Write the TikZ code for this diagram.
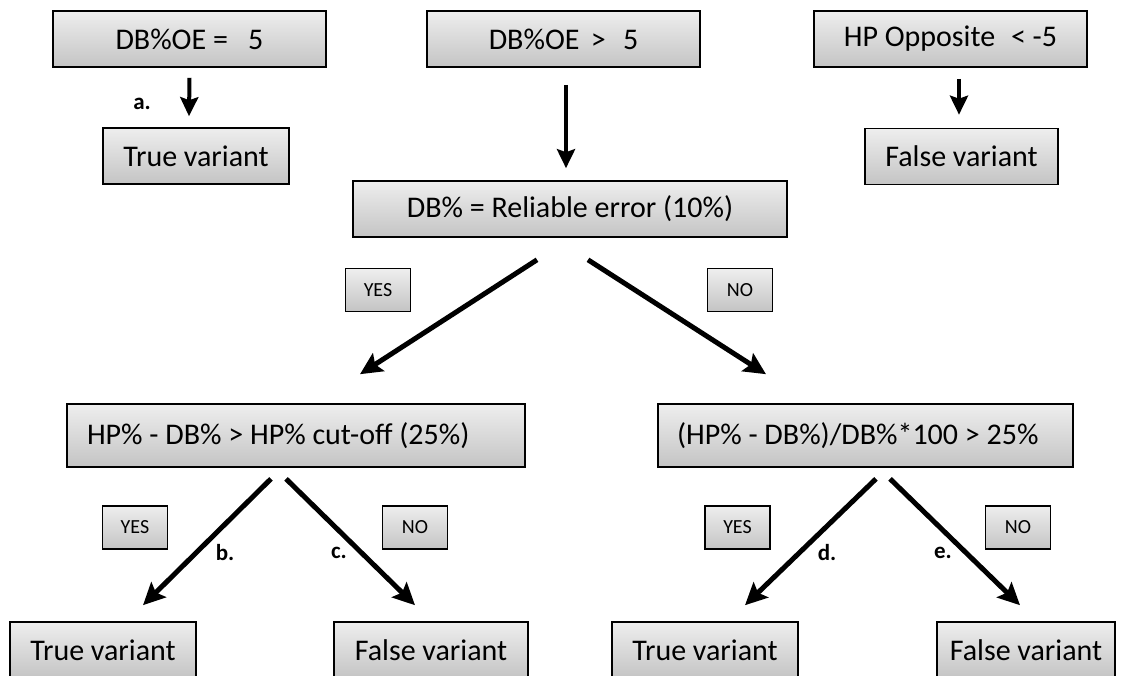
\documentclass[tikz,border=0pt]{standalone}
\usepackage{fontspec}
\setmainfont{Carlito}
\usetikzlibrary{arrows.meta}
\definecolor{boxtop}{RGB}{238,238,238}
\definecolor{boxbot}{RGB}{196,196,196}
\tikzset{
  box/.style={draw=black, line width=1.6pt, top color=boxtop, bottom color=boxbot,
    inner sep=0pt, minimum height=56pt, font=\fontsize{30}{36}\selectfont},
  smallbox/.style={draw=black, line width=1.6pt, top color=boxtop, bottom color=boxbot,
    inner sep=0pt, minimum height=43pt, minimum width=65pt, font=\fontsize{20}{24}\selectfont},
  lab/.style={font=\bfseries\fontsize{23}{27}\selectfont, inner sep=0pt},
  varr/.style={line width=4pt, -{Stealth[length=19pt,width=18pt,inset=3pt]}},
  darr/.style={line width=5pt, -{Stealth[length=22pt,width=21pt,inset=4pt]}}
}
\begin{document}
\begin{tikzpicture}[x=1pt,y=-1pt]
\useasboundingbox (0,0) rectangle (1122,675);
\clip (0,0) rectangle (1122,675);
% top row
\node[box, minimum width=273pt] (A) at (189.5,39) {DB\%OE = \hspace{0.45em}5};
\node[box, minimum width=273pt] (B) at (563.5,39) {DB\%OE \hspace{0.15em}> \hspace{0.35em}5};
\node[box, minimum width=273pt] (C) at (950.5,39) {HP Opposite \hspace{0.3em}< -5};
\node[box, minimum width=186pt] (TV1) at (196,156) {True variant};
\node[box, minimum width=193pt] (FV1) at (961.5,156.5) {False variant};
\node[box, minimum width=434pt] (R) at (570,209) {DB\% = Reliable error (10\%)};
% middle labels
\node[smallbox] (Y1) at (378,290) {YES};
\node[smallbox] (N1) at (740,290) {NO};
% middle row
\node[box, minimum height=63pt, inner xsep=20pt] (H1) at (296,435.5) {\makebox[418pt][l]{HP\% - DB\% > HP\% cut-off (25\%)}};
\node[box, minimum height=63pt, inner xsep=19pt] (H2) at (865.5,435.5) {\makebox[377pt][l]{(HP\% - DB\%)/DB\%*100 > 25\%}};
% lower labels
\node[smallbox] (Y2) at (135,527.5) {YES};
\node[smallbox] (N2) at (415,527.5) {NO};
\node[smallbox] (Y3) at (737.5,527.5) {YES};
\node[smallbox] (N3) at (1018,527.5) {NO};
% bottom row
\node[box, minimum width=186pt] (TV2) at (103,650) {True variant};
\node[box, minimum width=194pt] (FV2) at (431,650) {False variant};
\node[box, minimum width=186pt] (TV3) at (705,650) {True variant};
\node[box, minimum width=178pt] (FV3) at (1026,650) {False variant};
% letter labels
\node[lab] (la) at (142,104) {a.};
\node[lab] (lb) at (225,553) {b.};
\node[lab] (lc) at (339,553) {c.};
\node[lab] (ld) at (827,553) {d.};
\node[lab] (le) at (943,553) {e.};
% arrows
\draw[varr] ([shift={(0,10)}]A.south) -- ([shift={(-7,-11)}]TV1.north);
\draw[varr] ([shift={(8.5,11)}]C.south) -- ([shift={(-2.5,-13)}]FV1.north);
\draw[varr] ([shift={(2.5,17)}]B.south) -- ([shift={(-4,-12)}]R.north);
\draw[darr] ([shift={(-33,22)}]R.south) -- ([shift={(64,-29)}]H1.north);
\draw[darr] ([shift={(18,22)}]R.south) -- ([shift={(-99.5,-29)}]H2.north);
\draw[darr] ([shift={(-25,11)}]H1.south) -- ([shift={(40,-16)}]TV2.north);
\draw[darr] ([shift={(-10,11)}]H1.south) -- ([shift={(-16,-16)}]FV2.north);
\draw[darr] ([shift={(10.5,11)}]H2.south) -- ([shift={(40,-16)}]TV3.north);
\draw[darr] ([shift={(24.5,11)}]H2.south) -- ([shift={(-6,-16)}]FV3.north);
\end{tikzpicture}
\end{document}
